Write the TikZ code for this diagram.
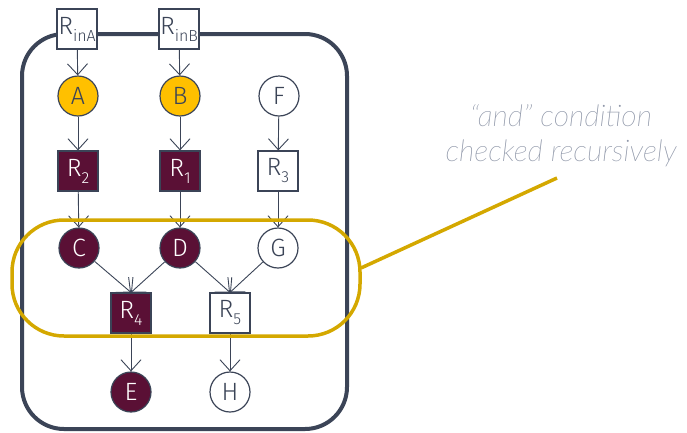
\documentclass[tikz,border=0pt]{standalone}
\usepackage{fontspec}
\setmainfont{Fira Sans}[UprightFont=* Light]
\newfontfamily\notefont{Lato}[UprightFont=* Thin Italic]
\usetikzlibrary{arrows.meta}
\definecolor{navy}{HTML}{3B4457}
\definecolor{maroon}{HTML}{5A1035}
\definecolor{amber}{HTML}{FFC000}
\definecolor{gold}{HTML}{D4A800}
\definecolor{notegray}{HTML}{8C94A6}
\tikzset{
  base/.style={draw=navy, line width=1.2pt, inner sep=0pt, font=\fontsize{25}{27}\selectfont, text=navy},
  circ/.style={base, circle, minimum size=40pt, fill=white},
  ycirc/.style={circ, fill=amber},
  mcirc/.style={circ, fill=maroon, text=white},
  rbox/.style={base, rectangle, minimum size=40pt, fill=white},
  mbox/.style={rbox, fill=maroon, text=white},
  arr/.style={draw=navy, line width=0.9pt, -{Straight Barb[length=11pt,width=20pt,line width=0.9pt]}},
}
\newcommand{\sub}[1]{\raisebox{-0.28em}{\fontsize{16}{17}\selectfont #1}}
\begin{document}
\begin{tikzpicture}[x=1pt,y=-1pt]
\useasboundingbox (0,0) rectangle (687,432);
\draw[navy, line width=4pt, rounded corners=42pt] (22,34) rectangle (347,429);
\node[rbox] (RinA) at (77,29) {R\sub{inA}};
\node[rbox] (RinB) at (179,29) {R\sub{inB}};
\node[ycirc] (A) at (78,96) {A};
\node[ycirc] (B) at (180,96) {B};
\node[circ] (F) at (279,96) {F};
\node[mbox] (R2) at (78,171) {R\sub{2}};
\node[mbox] (R1) at (180,171) {R\sub{1}};
\node[rbox] (R3) at (278,171) {R\sub{3}};
\node[mcirc] (C) at (79,248) {C};
\node[mcirc] (D) at (180,248) {D};
\node[circ] (G) at (278,248) {G};
\node[mbox] (R4) at (131,313) {R\sub{4}};
\node[rbox] (R5) at (230,313) {R\sub{5}};
\node[mcirc] (E) at (131,392) {E};
\node[circ] (H) at (230,392) {H};
\draw[arr] (RinA) -- (A);
\draw[arr] (RinB) -- (B);
\draw[arr] (A) -- (R2);
\draw[arr] (B) -- (R1);
\draw[arr] (F) -- (R3);
\draw[arr] (R2) -- (C);
\draw[arr] (R1) -- (D);
\draw[arr] (R3) -- (G);
\draw[arr] (C) -- (R4.north);
\draw[arr] (D) -- (R4.north);
\draw[arr] (D) -- (R5.north);
\draw[arr] (G) -- (R5.north);
\draw[arr] (R4) -- (E);
\draw[arr] (R5) -- (H);
\draw[gold, line width=3.5pt, rounded corners=52pt] (12,220) rectangle (360,336);
\coordinate (Lstart) at (361,268);
\coordinate (Lend) at (557,178);
\draw[gold, line width=3.5pt] (Lstart) -- (Lend);
\node[font=\notefont\fontsize{30}{35}\selectfont, text=notegray, align=center] (note) at (561,136) {“and” condition\\checked recursively};
\end{tikzpicture}
\end{document}
